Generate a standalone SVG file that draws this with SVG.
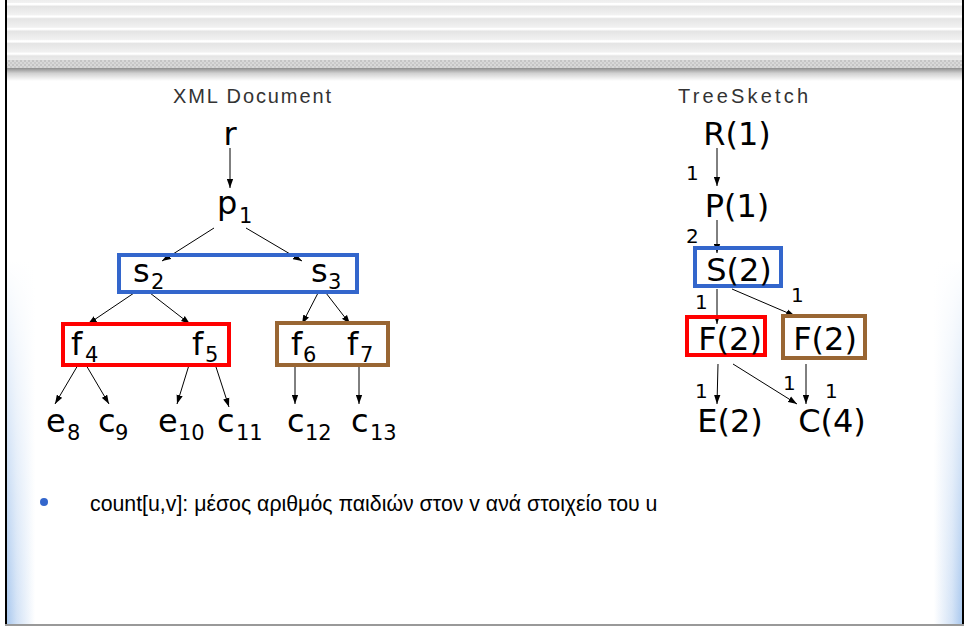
<svg xmlns="http://www.w3.org/2000/svg" width="966" height="626" viewBox="0 0 966 626">
<style>
.lbl{font-family:"DejaVu Sans",Verdana,sans-serif;font-size:32px;fill:#000}
.sub{font-size:21px}
.tl{font-family:"DejaVu Sans",Verdana,sans-serif;font-size:32px;fill:#000;text-anchor:middle}
.el{font-family:"DejaVu Sans",Verdana,sans-serif;font-size:20px;fill:#000}
.hd{font-family:"Liberation Sans",Arial,sans-serif;font-size:20px;fill:#333;text-anchor:middle}
.edge{stroke:#000;stroke-width:1;fill:none;marker-end:url(#ah)}
.bx{fill:none;stroke-width:4}
.blue{stroke:#3366cc}.red{stroke:#ff0000}.brown{stroke:#996633}
</style>
<defs>
<marker id="ah" viewBox="0 0 10 7" refX="10" refY="3.5" markerWidth="9" markerHeight="7" markerUnits="userSpaceOnUse" orient="auto">
<path d="M0,0 L10,3.5 L0,7 z" fill="#000"/>
</marker>
<linearGradient id="stripe" x1="0" y1="0" x2="0" y2="1">
<stop offset="0" stop-color="#ffffff"/>
<stop offset="0.15" stop-color="#ffffff"/>
<stop offset="0.25" stop-color="#e4e4e4"/>
<stop offset="1" stop-color="#f2f2f2"/>
</linearGradient>
<pattern id="stripes" x="0" y="3" width="20" height="12.4" patternUnits="userSpaceOnUse">
<rect width="20" height="12.4" fill="url(#stripe)"/>
</pattern>
<pattern id="tex" x="0" y="60" width="4" height="4" patternUnits="userSpaceOnUse">
<rect width="4" height="4" fill="#d8d8d8"/>
<rect width="2" height="2" fill="#c4c4c4"/>
<rect x="2" y="2" width="2" height="2" fill="#cacaca"/>
</pattern>
<linearGradient id="shadow" x1="0" y1="0" x2="0" y2="1">
<stop offset="0" stop-color="#8c8c8c"/>
<stop offset="0.4" stop-color="#d0d0d0"/>
<stop offset="1" stop-color="#ffffff"/>
</linearGradient>
<linearGradient id="lside" x1="0" y1="0" x2="1" y2="0">
<stop offset="0" stop-color="#a9c8ee"/>
<stop offset="0.35" stop-color="#d2e2f6"/>
<stop offset="1" stop-color="#ffffff"/>
</linearGradient>
<linearGradient id="rside" x1="1" y1="0" x2="0" y2="0">
<stop offset="0" stop-color="#a9c8ee"/>
<stop offset="0.35" stop-color="#d2e2f6"/>
<stop offset="1" stop-color="#ffffff"/>
</linearGradient>
<linearGradient id="vwhite" x1="0" y1="0" x2="0" y2="1">
<stop offset="0" stop-color="#fff" stop-opacity="1"/>
<stop offset="0.5" stop-color="#fff" stop-opacity="0.5"/>
<stop offset="1" stop-color="#fff" stop-opacity="0"/>
</linearGradient>
</defs>
<rect width="966" height="626" fill="#fff"/>
<!-- header -->
<rect x="7" y="0" width="955" height="60" fill="url(#stripes)"/>
<rect x="7" y="60" width="955" height="8" fill="url(#tex)"/>
<rect x="7" y="68" width="955" height="13" fill="url(#shadow)"/>
<!-- side shading -->
<rect x="7" y="260" width="28" height="366" fill="url(#lside)"/>
<rect x="934" y="260" width="28" height="366" fill="url(#rside)"/>
<rect x="7" y="260" width="28" height="366" fill="url(#vwhite)"/>
<rect x="934" y="260" width="28" height="366" fill="url(#vwhite)"/>
<!-- frame -->
<rect x="5" y="0" width="2" height="626" fill="#000"/>
<rect x="962" y="0" width="2" height="626" fill="#000"/>
<rect x="5" y="624" width="959" height="2" fill="#999"/>

<text class="hd" x="252" y="103" textLength="158" lengthAdjust="spacing">XML Document</text>
<text class="hd" x="743" y="103" textLength="130" lengthAdjust="spacing">TreeSketch</text>

<g id="connectors">
<line class="edge" x1="230" y1="148" x2="230" y2="188"/>
<line class="edge" x1="214" y1="228" x2="162" y2="261"/>
<line class="edge" x1="246" y1="228" x2="302" y2="261"/>
<line class="edge" x1="134" y1="293" x2="88" y2="324"/>
<line class="edge" x1="150" y1="293" x2="190" y2="324"/>
<line class="edge" x1="318" y1="293" x2="302" y2="324"/>
<line class="edge" x1="326" y1="293" x2="350" y2="324"/>
<line class="edge" x1="78" y1="365" x2="55" y2="404"/>
<line class="edge" x1="86" y1="365" x2="109" y2="404"/>
<line class="edge" x1="189" y1="365" x2="177" y2="404"/>
<line class="edge" x1="216" y1="367" x2="229" y2="407"/>
<line class="edge" x1="295" y1="365" x2="295" y2="404"/>
<line class="edge" x1="359" y1="365" x2="359" y2="404"/>
<line class="edge" x1="717" y1="148" x2="717" y2="186"/>
<line class="edge" x1="717" y1="220" x2="717" y2="253"/>
<line class="edge" x1="717" y1="289" x2="717" y2="324"/>
<line class="edge" x1="732" y1="289" x2="795" y2="316"/>
<line class="edge" x1="718" y1="364" x2="717" y2="404"/>
<line class="edge" x1="733" y1="364" x2="797" y2="404"/>
<line class="edge" x1="806" y1="364" x2="806" y2="404"/>
<text class="el" x="686" y="180">1</text>
<text class="el" x="686" y="243">2</text>
<text class="el" x="695" y="309">1</text>
<text class="el" x="791" y="302">1</text>
<text class="el" x="695" y="398">1</text>
<text class="el" x="783" y="390">1</text>
<text class="el" x="825" y="398">1</text>
</g>

<!-- XML document tree -->
<g id="box-s"><rect class="bx blue" x="119" y="255" width="238" height="37"/></g>
<g id="box-f45"><rect class="bx red" x="63" y="324" width="166" height="41"/></g>
<g id="box-f67"><rect class="bx brown" x="277" y="323" width="111" height="42"/></g>
<g id="n-r"><text class="tl" x="230" y="145">r</text></g>
<g id="n-p1"><text class="lbl" x="217" y="214">p<tspan class="sub" x="239" y="223">1</tspan></text></g>
<g id="n-s2"><text class="lbl" x="133" y="282">s<tspan class="sub" x="151" y="289">2</tspan></text></g>
<g id="n-s3"><text class="lbl" x="311" y="282">s<tspan class="sub" x="328" y="289">3</tspan></text></g>
<g id="n-f4"><text class="lbl" x="71" y="355">f<tspan class="sub" x="85" y="362">4</tspan></text></g>
<g id="n-f5"><text class="lbl" x="192" y="355">f<tspan class="sub" x="205" y="362">5</tspan></text></g>
<g id="n-f6"><text class="lbl" x="291" y="355">f<tspan class="sub" x="303" y="362">6</tspan></text></g>
<g id="n-f7"><text class="lbl" x="347" y="355">f<tspan class="sub" x="360" y="362">7</tspan></text></g>
<g id="n-e8"><text class="lbl" x="46" y="432">e<tspan class="sub" x="67" y="440">8</tspan></text></g>
<g id="n-c9"><text class="lbl" x="98" y="432">c<tspan class="sub" x="115" y="440">9</tspan></text></g>
<g id="n-e10"><text class="lbl" x="158" y="432">e<tspan class="sub" x="178" y="440">10</tspan></text></g>
<g id="n-c11"><text class="lbl" x="217" y="432">c<tspan class="sub" x="236" y="440">11</tspan></text></g>
<g id="n-c12"><text class="lbl" x="287" y="432">c<tspan class="sub" x="305" y="440">12</tspan></text></g>
<g id="n-c13"><text class="lbl" x="351" y="432">c<tspan class="sub" x="370" y="440">13</tspan></text></g>

<!-- TreeSketch -->
<g id="t-R"><text class="tl" x="737" y="145">R(1)</text></g>
<g id="t-P"><text class="tl" x="737" y="217">P(1)</text></g>
<g id="t-S"><rect class="bx blue" x="695" y="248" width="86" height="38"/><text class="tl" x="739" y="281">S(2)</text></g>
<g id="t-F1"><rect class="bx red" x="687" y="317" width="78" height="38"/><text class="tl" x="730" y="350">F(2)</text></g>
<g id="t-F2"><rect class="bx brown" x="783" y="316" width="82" height="42"/><text class="tl" x="825" y="350">F(2)</text></g>
<g id="t-E"><text class="tl" x="730" y="432">E(2)</text></g>
<g id="t-C"><text class="tl" x="832" y="432">C(4)</text></g>

<!-- bullet -->
<circle cx="44" cy="502" r="4" fill="#3366cc"/>
<text x="90" y="511" font-family="'Liberation Sans',Arial,sans-serif" font-size="21.3" fill="#000">count[u,v]: μέσος αριθμός παιδιών στον v ανά στοιχείο του u</text>
</svg>
